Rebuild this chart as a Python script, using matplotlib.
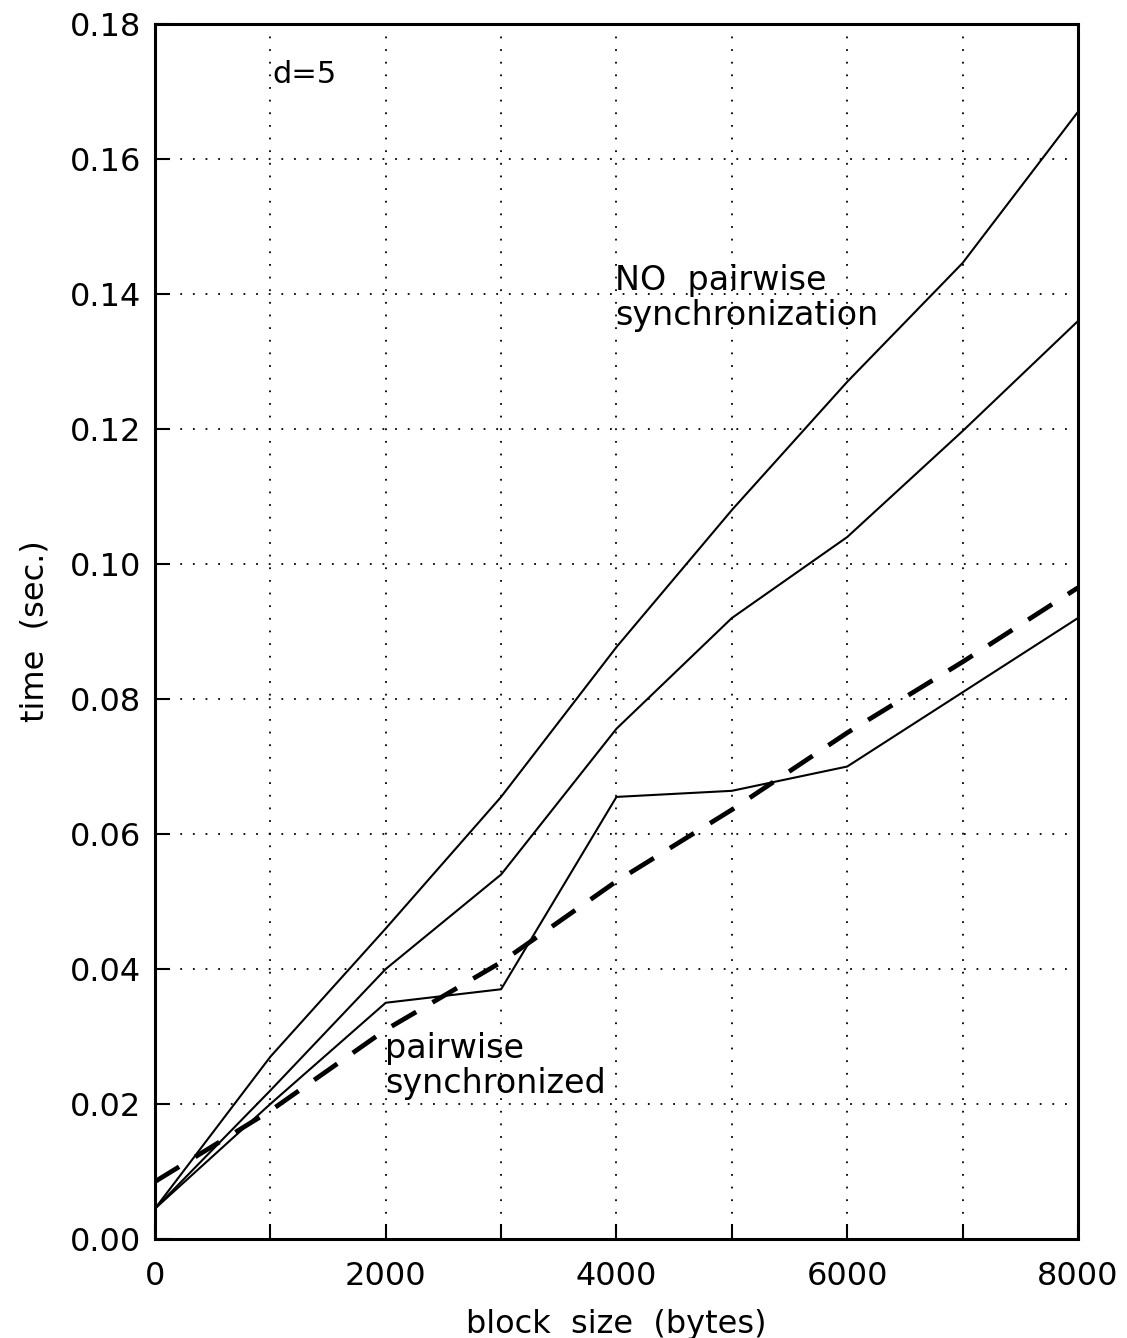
import matplotlib
matplotlib.use("Agg")
import matplotlib.pyplot as plt

block_size = [0, 1000, 2000, 3000, 4000, 5000, 6000, 7000, 8000]
no_sync_top = [0.0045, 0.027, 0.046, 0.0655, 0.0877, 0.108, 0.127, 0.1446, 0.167]
no_sync_mid = [0.0045, 0.022, 0.040, 0.054, 0.0756, 0.092, 0.104, 0.1197, 0.136]
sync_solid = [0.0045, 0.020, 0.035, 0.037, 0.0655, 0.0664, 0.070, 0.081, 0.092]
sync_dashed = [0.0085, 0.019, 0.031, 0.041, 0.053, 0.0636, 0.075, 0.0855, 0.0965]

xticks = [0, 2000, 4000, 6000, 8000]
yticks = [0.00, 0.02, 0.04, 0.06, 0.08, 0.10, 0.12, 0.14, 0.16, 0.18]

plt.rcParams['font.family'] = ['DejaVu Sans']

fig = plt.figure(figsize=(11.27, 13.38), dpi=100)
ax = fig.add_axes([0.1375, 0.074, 0.819, 0.908])

ax.plot(block_size, no_sync_top, color='black', lw=1.5)
ax.plot(block_size, no_sync_mid, color='black', lw=1.5)
ax.plot(block_size, sync_solid, color='black', lw=1.5)
ax.plot(block_size, sync_dashed, color='black', lw=3.4, linestyle=(0, (6, 4)))

ax.set_xlim(0, 8000)
ax.set_ylim(0, 0.18)
ax.set_xticks(xticks)
ax.set_xticklabels([str(v) for v in xticks])
ax.set_xticks(range(0, 8001, 1000), minor=True)
ax.set_yticks(yticks)
ax.set_yticklabels([f"{v:.2f}" for v in yticks])

ax.grid(True, which='both', axis='x', color='black', linestyle=(0, (1, 6)), lw=1.3)
ax.grid(True, which='major', axis='y', color='black', linestyle=(0, (1, 6)), lw=1.3)
ax.tick_params(axis='both', which='both', direction='in', length=11, width=1.5,
               labelsize=23, top=False, right=False)
ax.tick_params(axis='y', pad=10)
ax.tick_params(axis='x', pad=16)
for s in ax.spines.values():
    s.set_linewidth(2.2)

ax.set_xlabel('block  size  (bytes)', fontsize=23, labelpad=12)
ax.set_ylabel('time  (sec.)', fontsize=23, labelpad=14)

ax.text(1014, 0.1747, 'd=5', fontsize=22, va='top', ha='left')
ax.text(3987, 0.1445, 'NO  pairwise\nsynchronization', fontsize=24, va='top', ha='left', linespacing=1.1)
ax.text(1993, 0.0307, 'pairwise\nsynchronized', fontsize=24, va='top', ha='left', linespacing=1.1)

fig.savefig('out.png', dpi=100)
